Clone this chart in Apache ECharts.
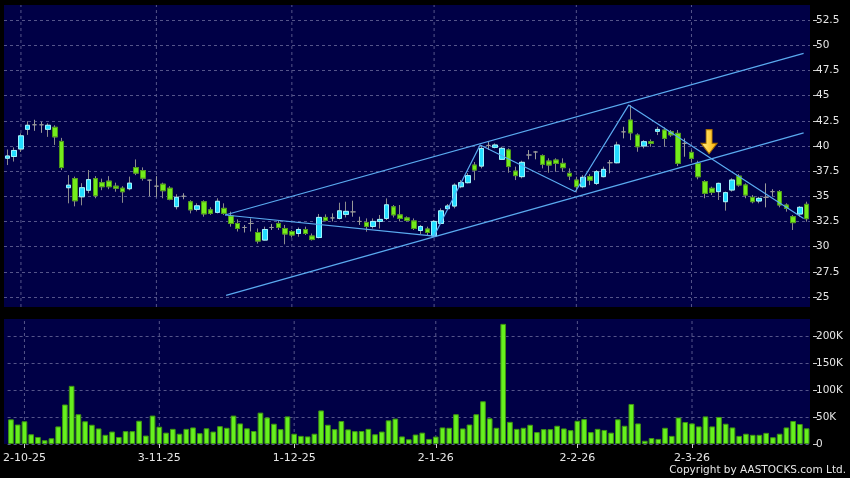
<!DOCTYPE html>
<html>
<head>
<meta charset="utf-8">
<script src="https://cdn.jsdelivr.net/npm/echarts@6/dist/echarts.min.js"></script>
<style>
  html, body { margin: 0; padding: 0; background: #000; }
  #chart { width: 850px; height: 478px; }
</style>
</head>
<body>
<div id="chart"></div>
<script>
// trading days, 29-9-25 .. 25-3-26
const dates = [
  '29-9-25','30-9-25',
  '2-10-25','3-10-25','6-10-25','8-10-25','9-10-25','10-10-25','13-10-25','14-10-25','15-10-25','16-10-25',
  '17-10-25','20-10-25','21-10-25','22-10-25','23-10-25','24-10-25','27-10-25','28-10-25','30-10-25','31-10-25',
  '3-11-25','4-11-25','5-11-25','6-11-25','7-11-25','10-11-25','11-11-25','12-11-25','13-11-25','14-11-25',
  '17-11-25','18-11-25','19-11-25','20-11-25','21-11-25','24-11-25','25-11-25','26-11-25','27-11-25','28-11-25',
  '1-12-25','2-12-25','3-12-25','4-12-25','5-12-25','8-12-25','9-12-25','10-12-25','11-12-25','12-12-25',
  '15-12-25','16-12-25','17-12-25','18-12-25','19-12-25','22-12-25','23-12-25','24-12-25','29-12-25','30-12-25','31-12-25',
  '2-1-26','5-1-26','6-1-26','7-1-26','8-1-26','9-1-26','12-1-26','13-1-26','14-1-26','15-1-26',
  '16-1-26','19-1-26','20-1-26','21-1-26','22-1-26','23-1-26','26-1-26','27-1-26','28-1-26','29-1-26','30-1-26',
  '2-2-26','3-2-26','4-2-26','5-2-26','6-2-26','9-2-26','10-2-26','11-2-26','12-2-26','13-2-26',
  '16-2-26','20-2-26','23-2-26','24-2-26','25-2-26','26-2-26','27-2-26',
  '2-3-26','3-3-26','4-3-26','5-3-26','6-3-26','9-3-26','10-3-26','11-3-26','12-3-26','13-3-26',
  '16-3-26','17-3-26','18-3-26','19-3-26','20-3-26','23-3-26','24-3-26','25-3-26'
];

const open = [
  38.78,38.95,39.7,41.65,42.1,42.1,41.65,41.85,40.45,35.85,
  36.75,34.95,35.6,36.75,36.35,36.5,36.0,35.8,35.75,37.85,
  37.55,36.6,36.0,36.2,35.8,33.97,35.0,34.45,33.7,34.45,
  33.65,33.4,33.8,33.05,32.3,31.9,32.3,31.4,30.65,31.9,
  32.3,31.8,31.5,31.3,31.7,31.05,30.9,32.9,32.85,32.8,
  33.2,33.45,32.5,32.4,32.0,32.5,32.8,33.95,33.15,32.85,
  32.55,31.6,31.75,31.05,32.3,33.77,34.03,35.95,36.35,38.1,
  38.0,40.05,39.86,38.67,39.6,37.5,36.95,39.1,39.4,39.03,
  38.5,38.6,38.27,37.28,36.61,35.95,36.95,36.28,36.95,38.33,
  38.33,41.4,42.57,41.08,40.0,40.42,41.45,41.58,41.4,41.25,
  40.25,39.36,38.27,36.45,35.79,35.46,34.46,35.62,37.0,36.12,
  34.89,34.53,34.89,35.46,35.46,34.13,32.97,33.24,34.2
];
const close = [
  39.0,39.55,41.0,42.05,42.1,42.1,42.05,40.9,37.85,36.1,
  34.55,35.85,36.65,35.05,35.95,35.95,35.8,35.45,36.3,37.3,
  36.8,36.6,36.0,35.55,34.7,34.9,35.0,33.65,34.05,33.25,
  33.3,34.5,33.3,32.3,31.8,31.9,32.3,30.55,31.7,31.9,
  31.9,31.25,31.15,31.7,31.3,30.7,32.9,32.6,32.85,33.55,
  33.5,33.45,32.5,32.0,32.5,32.7,34.15,33.15,32.8,32.6,
  31.8,32.0,31.4,32.5,33.55,34.03,36.1,36.35,37.05,37.6,
  39.75,40.05,40.09,39.76,37.95,37.05,38.37,39.1,39.4,38.17,
  38.1,38.27,37.84,37.01,35.95,36.88,36.6,37.44,37.67,38.33,
  40.09,41.4,41.3,39.92,40.42,40.25,41.64,40.75,41.1,38.27,
  40.25,38.77,36.94,35.29,35.39,36.28,35.36,36.61,36.12,35.12,
  34.46,34.79,34.89,35.46,34.13,33.8,32.38,33.9,32.77
];
const high = [
  39.65,39.85,41.25,42.45,42.6,42.4,42.25,42.05,40.8,37.1,
  36.95,36.3,37.6,37.0,36.75,37.0,36.35,36.0,36.95,38.66,
  37.87,36.65,37.0,36.35,36.0,35.2,35.3,34.6,34.3,34.6,
  33.9,34.8,34.3,33.47,32.7,32.15,32.8,31.8,31.98,32.25,
  32.58,32.15,31.65,31.9,31.98,31.3,33.24,33.2,33.3,34.36,
  34.46,34.56,32.97,32.8,32.8,33.14,34.79,34.13,34.13,33.0,
  32.8,32.15,31.98,32.64,33.8,34.23,36.28,36.6,37.3,38.4,
  40.09,40.4,40.25,39.92,39.76,37.94,38.53,39.59,39.5,39.16,
  38.77,38.77,38.77,37.77,36.95,37.1,37.2,37.6,37.94,38.6,
  40.42,41.9,44.06,41.25,40.58,40.65,41.9,41.84,41.58,41.58,
  40.75,39.6,38.53,36.61,35.95,36.35,35.46,36.78,37.2,36.28,
  35.12,34.95,36.28,35.7,35.62,34.3,33.14,34.03,34.46
];
const low = [
  38.1,38.45,39.4,41.1,41.5,41.3,40.9,40.1,37.6,34.3,
  34.0,34.1,35.3,34.8,35.6,35.7,35.45,34.35,35.6,37.1,
  36.55,35.0,34.9,34.8,34.6,33.7,34.7,33.3,33.5,32.97,
  33.15,33.3,33.15,31.98,31.5,31.4,31.5,30.3,30.6,31.65,
  31.65,30.23,30.9,30.98,31.15,30.6,30.82,32.5,32.5,32.7,
  32.9,32.97,32.15,31.48,31.8,31.8,32.64,32.9,32.5,32.5,
  31.65,31.25,31.15,30.98,32.25,33.64,33.8,35.8,36.28,36.6,
  37.77,39.6,39.76,38.6,37.34,36.61,36.78,38.67,38.67,37.77,
  37.34,37.44,37.44,36.61,35.45,35.8,36.1,36.12,36.88,37.28,
  38.27,40.75,40.58,39.42,39.76,39.92,41.08,39.92,40.9,38.0,
  38.93,38.4,36.68,34.8,35.12,34.63,33.57,35.46,35.95,34.8,
  34.3,34.3,33.9,35.0,33.9,33.47,31.65,32.97,32.48
];
// volume in thousands of shares
const volumeK = [
  45.6,36,42,18,13,7,10.6,32.5,73,107.5,
  55,42,35.6,28.75,17,23,13,23.75,23.75,43,
  15.6,52.5,32,21,28,19,28,30.6,20,29,
  23,33,30,52.5,38,29,24,58,49,37.5,
  27.5,51,19,15,14,19,62,35.6,27.5,42.5,
  27,23.75,24,28,18,23,43.75,47,14,8.75,
  17.5,21,9.4,13.75,30.6,30,55,28.75,36,55,
  79,47.5,30,222,41,28,30,35.6,22,27.5,
  27.5,33.75,28.75,25.6,43,46,22,28,26,21,
  45.6,33.75,74,38,6,11,9.4,30,15,49,
  40.6,38,32.5,51,32.5,50,37.5,30.6,15,19,
  17,17,20.6,12.5,19,30.6,42.5,37,29
];

const monthLabels = ['2-10-25', '3-11-25', '1-12-25', '2-1-26', '2-2-26', '2-3-26'];
const priceTicks = [25, 27.5, 30, 32.5, 35, 37.5, 40, 42.5, 45, 47.5, 50, 52.5];
const volumeTicks = [0, 50, 100, 150, 200];

// drawn trend lines, [bar position, price]
const zigzag = [[32.14, 33.14], [63.0, 31.05], [69.8, 40.1], [83.84, 35.45], [91.72, 44.06], [117.56, 32.8]];
const channelTop = [[32.14, 33.14], [117.56, 49.2]];
const channelBottom = [[32.29, 25.15], [117.56, 41.3]];
const arrowAt = [103.6, 40.42];

const priceRange = [24, 54];
const volumeRange = [0, 231];

const navy = '#000046';
const gridColor = '#55558a';
const textColor = '#e6e6e6';
const trendColor = '#5aaaf0';

const chart = echarts.init(document.getElementById('chart'));

const ohlc = dates.map((d, i) => [open[i], close[i], low[i], high[i]]);
const bodies = dates.map((d, i) => open[i] === close[i] ? '-' :
  [open[i], close[i], Math.min(open[i], close[i]), Math.max(open[i], close[i])]);
const monthIdx = monthLabels.map(d => dates.indexOf(d));

const isLabel = (idx, val) => monthLabels.indexOf(val) >= 0;
const dashed = { type: [3, 3], color: gridColor, width: 1 };
// hidden bar-position axis, used for the month gridlines and the drawn lines
const posAxis = (grid) => ({ type: 'value', gridIndex: grid, min: -0.5, max: dates.length - 0.5, show: false });
const trendLine = (data) => ({
  type: 'line', xAxisIndex: 2, yAxisIndex: 0, data: data,
  showSymbol: false, silent: true,
  lineStyle: { color: trendColor, width: 1.2 }
});
const monthLine = (xAxisIndex, yAxisIndex, range) => monthIdx.map(i => ({
  type: 'line', xAxisIndex: xAxisIndex, yAxisIndex: yAxisIndex, z: 1,
  data: [[i, range[0]], [i, range[1]]],
  showSymbol: false, silent: true, lineStyle: dashed
}));

chart.setOption({
  backgroundColor: '#000',
  animation: false,
  graphic: [
    { type: 'rect', z: -10, shape: { x: 4, y: 5, width: 806, height: 302 }, style: { fill: navy } },
    { type: 'rect', z: -10, shape: { x: 4, y: 319, width: 806, height: 125 }, style: { fill: navy } },
    {
      type: 'text', right: 4, top: 465,
      style: { text: 'Copyright by AASTOCKS.com Ltd.', fill: textColor, font: '10.5px "DejaVu Sans"' }
    }
  ],
  grid: [
    { left: 4, right: 40, top: 5, height: 302 },
    { left: 4, right: 40, top: 319, height: 125 }
  ],
  xAxis: [
    {
      type: 'category', gridIndex: 0, data: dates,
      axisLine: { show: false }, axisTick: { show: false }, axisLabel: { show: false }, splitLine: { show: false }
    },
    {
      type: 'category', gridIndex: 1, data: dates,
      axisLine: { show: false },
      axisTick: { show: true, alignWithLabel: true, interval: isLabel, length: 4, lineStyle: { color: '#cccccc' } },
      axisLabel: { interval: isLabel, color: textColor, fontSize: 11, fontFamily: 'DejaVu Sans', margin: 9 },
      splitLine: { show: false }
    },
    posAxis(0),
    posAxis(1)
  ],
  yAxis: [
    {
      type: 'value', gridIndex: 0, position: 'right', min: priceRange[0], max: priceRange[1], offset: 3,
      axisLine: { show: false, onZero: false },
      axisTick: { show: true, length: 4, customValues: priceTicks, lineStyle: { color: '#cccccc' } },
      axisLabel: { customValues: priceTicks, color: textColor, fontSize: 10.5, fontFamily: 'DejaVu Sans', margin: 3 },
      splitLine: { show: true, lineStyle: dashed }
    },
    {
      type: 'value', gridIndex: 1, position: 'right', min: volumeRange[0], max: volumeRange[1], offset: 3,
      axisLine: { show: false, onZero: false },
      axisTick: { show: true, length: 4, customValues: volumeTicks, lineStyle: { color: '#cccccc' } },
      axisLabel: {
        customValues: volumeTicks, color: textColor, fontSize: 10.5, fontFamily: 'DejaVu Sans', margin: 3,
        formatter: v => v === 0 ? '0' : v + 'K'
      },
      splitLine: { show: true, lineStyle: dashed }
    }
  ],
  series: [
    ...monthLine(2, 0, priceRange),
    ...monthLine(3, 1, volumeRange),
    {
      name: 'wick', type: 'candlestick', xAxisIndex: 0, yAxisIndex: 0, data: ohlc, barWidth: 5,
      itemStyle: {
        color: '#8c8c8c', color0: '#8c8c8c', borderColor: '#8c8c8c', borderColor0: '#8c8c8c',
        borderColorDoji: '#9a9a9a', borderWidth: 1
      }
    },
    {
      name: 'body', type: 'candlestick', xAxisIndex: 0, yAxisIndex: 0, data: bodies, barWidth: 5,
      itemStyle: {
        color: '#22dcff', color0: '#74ec1c', borderColor: '#9ef4ff', borderColor0: '#4c9a14', borderWidth: 1
      }
    },
    {
      name: 'volume', type: 'bar', xAxisIndex: 1, yAxisIndex: 1, data: volumeK, barWidth: '84%',
      itemStyle: { color: '#66f01e', borderColor: '#3f9412', borderWidth: 1 }
    },
    Object.assign(trendLine(zigzag), {
      markPoint: {
        silent: true,
        data: [{
          coord: arrowAt,
          symbol: 'path://M5,0 L11,0 L11,13 L16,13 L8,23 L0,13 L5,13 Z',
          symbolSize: [16, 24],
          itemStyle: {
            color: { type: 'linear', x: 0, y: 0, x2: 1, y2: 0,
              colorStops: [{ offset: 0, color: '#fff38a' }, { offset: 1, color: '#ffb000' }] },
            borderColor: '#a87000', borderWidth: 1
          },
          label: { show: false }
        }]
      }
    }),
    trendLine(channelTop),
    trendLine(channelBottom)
  ]
});
</script>
</body>
</html>
